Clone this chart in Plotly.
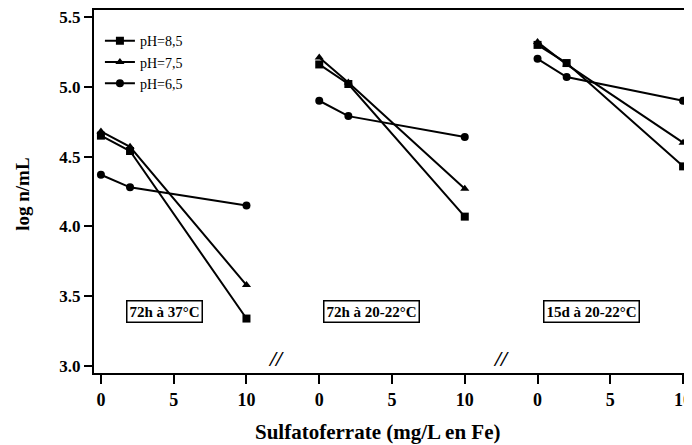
import plotly.graph_objects as go

# ---- data ----
conc = [0, 2, 10]  # Sulfatoferrate (mg/L en Fe)
panel_labels = ["72h à 37°C", "72h à 20-22°C", "15d à 20-22°C"]
ph85 = [[4.65, 4.54, 3.34], [5.16, 5.02, 4.07], [5.30, 5.17, 4.43]]
ph75 = [[4.68, 4.57, 3.58], [5.21, 5.03, 4.27], [5.32, 5.16, 4.60]]
ph65 = [[4.37, 4.28, 4.15], [4.90, 4.79, 4.64], [5.20, 5.07, 4.90]]
series_names = ["pH=8,5", "pH=7,5", "pH=6,5"]
tick_conc = [0, 5, 10]
y_ticks = [3.0, 3.5, 4.0, 4.5, 5.0, 5.5]

# ---- layout helpers ----
panel_offset = [0, 15, 30]   # horizontal placement of each panel on the shared axis
label_pos = [(4.35, 3.39), (18.6, 3.39), (33.7, 3.39)]
break_pos = [12.0, 27.5]
serif = "Liberation Serif, Times New Roman, serif"

def build(series):
    xs, ys = [], []
    for p, vals in enumerate(series):
        xs += [c + panel_offset[p] for c in conc] + [None]
        ys += list(vals) + [None]
    return xs[:-1], ys[:-1]

fig = go.Figure()
symbols = ["square", "triangle-up", "circle"]
for name, data, sym in zip(series_names, [ph85, ph75, ph65], symbols):
    x, y = build(data)
    fig.add_trace(go.Scatter(
        x=x, y=y, mode="lines+markers", name=name,
        line=dict(color="black", width=2),
        marker=dict(symbol=sym, size=8, color="black"),
        connectgaps=False, cliponaxis=False,
    ))

tickvals, ticktext = [], []
for off in panel_offset:
    for t in tick_conc:
        tickvals.append(t + off)
        ticktext.append("<b>%d</b>" % t)

annotations = []
for (lx, ly), lab in zip(label_pos, panel_labels):
    annotations.append(dict(
        x=lx, y=ly, xref="x", yref="y",
        text="<b>%s</b>" % lab, showarrow=False,
        font=dict(family=serif, size=15, color="black"),
        bordercolor="black", borderwidth=1.5, borderpad=2, bgcolor="white",
    ))
for bp in break_pos:
    annotations.append(dict(
        x=bp, y=0, xref="x", yref="paper", text="<i><b>//</b></i>", showarrow=False,
        font=dict(family=serif, size=22, color="black"),
    ))
annotations.append(dict(
    x=0.48, y=-0.162, xref="paper", yref="paper", xanchor="center", yanchor="middle",
    text="<b>Sulfatoferrate (mg/L en Fe)</b>", showarrow=False,
    font=dict(family=serif, size=21, color="black"),
))
annotations.append(dict(
    x=-0.122, y=0.493, xref="paper", yref="paper", xanchor="center", yanchor="middle",
    textangle=-90, text="<b>log n/mL</b>", showarrow=False,
    font=dict(family=serif, size=19, color="black"),
))

fig.update_layout(
    width=684, height=437,
    margin=dict(l=86, r=0, t=0, b=72),
    paper_bgcolor="white", plot_bgcolor="white",
    font=dict(family=serif, color="black"),
    showlegend=True,
    legend=dict(x=0.01, y=0.958, xanchor="left", yanchor="top",
                font=dict(family=serif, size=14, color="black"),
                bgcolor="rgba(0,0,0,0)", itemwidth=30, tracegroupgap=0),
    annotations=annotations,
    xaxis=dict(range=[-0.476, 40.2], tickmode="array", tickvals=tickvals, ticktext=ticktext,
               ticks="outside", ticklen=9, tickwidth=2, tickcolor="black",
               showline=True, linecolor="black", linewidth=2, mirror=True,
               showgrid=False, zeroline=False, ticklabeloverflow="allow",
               tickfont=dict(family=serif, size=18, color="black")),
    yaxis=dict(range=[2.95, 5.55], tickmode="array", tickvals=y_ticks,
               ticktext=["<b>%.1f</b>" % v for v in y_ticks],
               ticks="outside", ticklen=8, tickwidth=2, tickcolor="black",
               showline=True, linecolor="black", linewidth=2,
               showgrid=False, zeroline=False, ticklabeloverflow="allow",
               tickfont=dict(family=serif, size=17, color="black")),
)

fig.write_html("out.html")
